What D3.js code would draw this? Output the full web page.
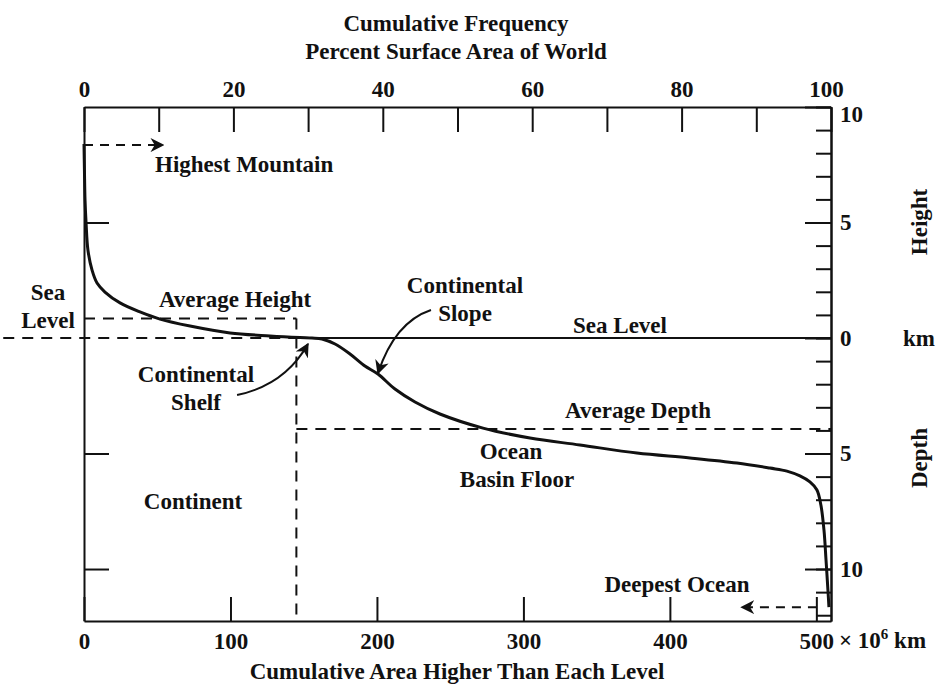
<!DOCTYPE html>
<html>
<head>
<meta charset="utf-8">
<script src="https://cdn.jsdelivr.net/npm/d3@7"></script>
<style>
  body { margin: 0; background: #fff; }
  svg text { font-family: "Liberation Serif", "Times New Roman", serif; font-weight: bold; fill: #111; }
  .axis path, .axis line { stroke: #111; stroke-width: 2; }
  .axis text { font-size: 23px; font-family: "Liberation Serif", serif; font-weight: bold; }
</style>
</head>
<body>
<div id="vis"></div>
<script>
const FRAME_WIDTH = 938;
const FRAME_HEIGHT = 685;
const MARGINS = {left: 84, right: 107, top: 107, bottom: 64};

// hypsometric curve: cumulative area (10^6 km^2) vs elevation (km)
const areaVals = [0, 0.3, 0.7, 1.4, 2.7, 5.5, 8.9, 14.3, 24.6, 38.2, 51.9, 72.4, 99.7,
  127, 147.5, 155.7, 162.5, 171.4, 181.6, 191.8, 200.7, 212.3, 226, 243, 272.4,
  304.5, 338.6, 377.5, 413.7, 445.8, 468.3, 479.9, 488.8, 495.6, 500.4, 503.1,
  505.2, 506.6, 507.9, 508.6];
const elevVals = [8.4, 7.27, 5.97, 5.0, 3.8, 2.94, 2.38, 1.99, 1.52, 1.13, 0.82, 0.52, 0.22,
  0.09, 0.02, 0, -0.04, -0.26, -0.69, -1.21, -1.56, -2.21, -2.77, -3.29, -3.9,
  -4.33, -4.63, -4.98, -5.19, -5.41, -5.63, -5.76, -5.97, -6.23, -6.58, -7.23,
  -8.31, -9.61, -10.9, -11.65];

const pctTicks = [0, 10, 20, 30, 40, 50, 60, 70, 80, 90, 100];
const areaTicks = [0, 100, 200, 300, 400, 500];
const kmMajor = [10, 5, 0, -5, -10];
const kmMinor = d3.range(-12, 11);

const highestMountain = 8.35;
const averageHeight = 0.84;
const averageDepth = -3.94;
const deepestOcean = -11.65;
const continentArea = 145;

const VIS_WIDTH = FRAME_WIDTH - MARGINS.left - MARGINS.right;
const VIS_HEIGHT = FRAME_HEIGHT - MARGINS.top - MARGINS.bottom;

const svg = d3.select("#vis").append("svg")
  .attr("width", FRAME_WIDTH)
  .attr("height", FRAME_HEIGHT);

const X_SCALE = d3.scaleLinear().domain([0, 510])
  .range([MARGINS.left, MARGINS.left + VIS_WIDTH]);
const PCT_SCALE = d3.scaleLinear().domain([0, 100])
  .range([MARGINS.left, MARGINS.left + VIS_WIDTH]);
const Y_SCALE = d3.scaleLinear().domain([-12.25, 10])
  .range([MARGINS.top + VIS_HEIGHT, MARGINS.top]);

// arrow heads
const defs = svg.append("defs");
defs.append("marker")
  .attr("id", "arrow")
  .attr("viewBox", "0 0 10 10")
  .attr("refX", 9).attr("refY", 5)
  .attr("markerWidth", 14).attr("markerHeight", 14)
  .attr("markerUnits", "userSpaceOnUse")
  .attr("orient", "auto")
  .append("path")
    .attr("d", "M0,0 L10,5 L0,10 L3,5 Z")
    .attr("fill", "#111");

// top axis (percent)
const topAxis = svg.append("g").attr("class", "axis")
  .attr("transform", "translate(0," + MARGINS.top + ")")
  .call(d3.axisTop(PCT_SCALE).tickValues(pctTicks).tickSizeInner(-25).tickSizeOuter(0)
    .tickPadding(10).tickFormat(d => d % 20 === 0 ? d : ""));
topAxis.selectAll(".tick text").filter(d => d === 100).attr("dx", -5);

// bottom axis (area)
svg.append("g").attr("class", "axis")
  .attr("transform", "translate(0," + (MARGINS.top + VIS_HEIGHT) + ")")
  .call(d3.axisBottom(X_SCALE).tickValues(areaTicks).tickSizeInner(-24).tickSizeOuter(0)
    .tickPadding(12));

// right axis, minor then major
svg.append("g").attr("class", "axis")
  .attr("transform", "translate(" + (MARGINS.left + VIS_WIDTH) + ",0)")
  .call(d3.axisRight(Y_SCALE).tickValues(kmMinor).tickSizeInner(-15).tickSizeOuter(0)
    .tickFormat(""));
const rightAxis = svg.append("g").attr("class", "axis")
  .attr("transform", "translate(" + (MARGINS.left + VIS_WIDTH) + ",0)")
  .call(d3.axisRight(Y_SCALE).tickValues(kmMajor).tickSizeInner(-26).tickSizeOuter(0)
    .tickPadding(9).tickFormat(d => Math.abs(d)));
rightAxis.selectAll(".tick text").filter(d => d === 10).attr("dy", "0.62em");

// left axis
svg.append("g").attr("class", "axis")
  .attr("transform", "translate(" + MARGINS.left + ",0)")
  .call(d3.axisLeft(Y_SCALE).tickValues([5, -5, -10]).tickSizeInner(-25).tickSizeOuter(0)
    .tickFormat(""));

// reference lines
const dash = "11,8";
function hline(y, x0, x1, dashed) {
  svg.append("line")
    .attr("x1", X_SCALE(x0)).attr("x2", X_SCALE(x1))
    .attr("y1", Y_SCALE(y)).attr("y2", Y_SCALE(y))
    .attr("stroke", "#111").attr("stroke-width", 2)
    .attr("stroke-dasharray", dashed ? dash : null);
}
hline(0, -120, continentArea, true);
hline(0, continentArea, 510, false);
hline(averageHeight, 0, continentArea, true);
hline(averageDepth, continentArea, 510, true);
svg.append("line")
  .attr("x1", X_SCALE(continentArea)).attr("x2", X_SCALE(continentArea))
  .attr("y1", Y_SCALE(averageHeight)).attr("y2", Y_SCALE(-12.25))
  .attr("stroke", "#111").attr("stroke-width", 2)
  .attr("stroke-dasharray", dash);

// highest mountain / deepest ocean arrows
svg.append("line")
  .attr("x1", X_SCALE(0)).attr("x2", X_SCALE(54))
  .attr("y1", Y_SCALE(highestMountain)).attr("y2", Y_SCALE(highestMountain))
  .attr("stroke", "#111").attr("stroke-width", 2)
  .attr("stroke-dasharray", "9,7")
  .attr("marker-end", "url(#arrow)");
svg.append("line")
  .attr("x1", X_SCALE(500.4)).attr("x2", X_SCALE(449))
  .attr("y1", Y_SCALE(deepestOcean)).attr("y2", Y_SCALE(deepestOcean))
  .attr("stroke", "#111").attr("stroke-width", 2)
  .attr("stroke-dasharray", "9,7")
  .attr("marker-end", "url(#arrow)");

// hypsometric curve
const curveData = areaVals.map((a, i) => [a, elevVals[i]]);
svg.append("path")
  .datum(curveData)
  .attr("fill", "none")
  .attr("stroke", "#111")
  .attr("stroke-width", 3)
  .attr("d", d3.line()
    .x(d => X_SCALE(d[0]))
    .y(d => Y_SCALE(d[1]))
    .curve(d3.curveCatmullRom.alpha(0.5)));

// curved pointer arrows
function pointer(p0, c, p1) {
  const path = d3.path();
  path.moveTo(X_SCALE(p0[0]), Y_SCALE(p0[1]));
  path.quadraticCurveTo(X_SCALE(c[0]), Y_SCALE(c[1]), X_SCALE(p1[0]), Y_SCALE(p1[1]));
  svg.append("path")
    .attr("d", path.toString())
    .attr("fill", "none")
    .attr("stroke", "#111")
    .attr("stroke-width", 2)
    .attr("marker-end", "url(#arrow)");
}
pointer([104.5, -2.47], [137.2, -2.03], [152.9, -0.26]);
pointer([236.9, 1.21], [212.3, 0.69], [200.7, -1.52]);

// labels
function label(txt, x, y, anchor, size) {
  return svg.append("text")
    .attr("x", x).attr("y", y)
    .attr("text-anchor", anchor || "middle")
    .attr("font-size", (size || 23) + "px")
    .text(txt);
}
label("Cumulative Frequency", 456, 31);
label("Percent Surface Area of World", 456, 59);
label("Cumulative Area Higher Than Each Level", 457, 679);
label("Highest Mountain", 155, 172, "start");
label("Sea", 48, 300);
label("Level", 48, 328);
label("Average Height", 235, 307);
label("Continental", 465, 293);
label("Slope", 465, 321);
label("Sea Level", 620, 333);
label("Continental", 196, 382);
label("Shelf", 196, 410);
label("Average Depth", 638, 418);
label("Ocean", 511, 459);
label("Basin Floor", 517, 487);
label("Continent", 193, 509);
label("Deepest Ocean", 677, 592);
label("km", 919, 346);

const unit = label("", 839, 648, "start");
unit.append("tspan").text("× 10");
unit.append("tspan").attr("dy", -9).attr("font-size", "15px").text("6");
unit.append("tspan").attr("dy", 9).text(" km");

svg.append("text")
  .attr("transform", "translate(927,222) rotate(-90)")
  .attr("text-anchor", "middle")
  .attr("font-size", "23px")
  .text("Height");
svg.append("text")
  .attr("transform", "translate(927,458) rotate(-90)")
  .attr("text-anchor", "middle")
  .attr("font-size", "23px")
  .text("Depth");
</script>
</body>
</html>
